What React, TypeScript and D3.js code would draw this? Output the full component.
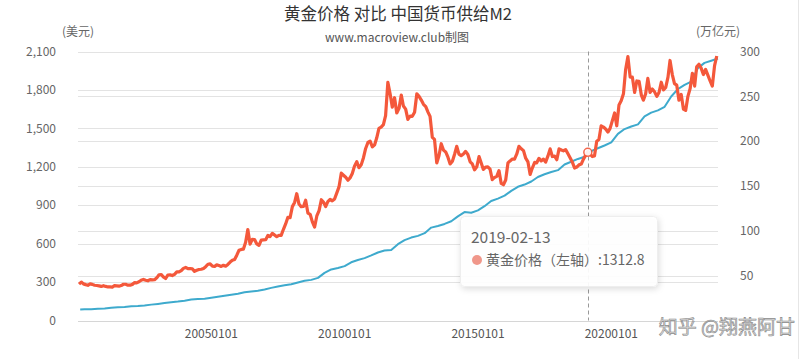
import React from "react";
import * as d3 from "d3";

const years = d3.range(2000, 2024);

// Gold price, USD/oz, one value per month (Jan..Dec) for each year
const gold2000 = [284, 300, 286, 280, 275, 286, 282, 275, 273, 270, 266, 272];
const gold2001 = [266, 262, 263, 261, 272, 270, 268, 273, 283, 283, 276, 276];
const gold2002 = [282, 296, 294, 302, 314, 321, 314, 310, 319, 317, 319, 333];
const gold2003 = [357, 359, 340, 328, 355, 356, 351, 360, 379, 379, 389, 407];
const gold2004 = [414, 405, 406, 403, 384, 392, 398, 400, 406, 420, 439, 442];
const gold2005 = [424, 423, 434, 429, 422, 431, 424, 438, 456, 470, 476, 510];
const gold2006 = [549, 555, 557, 610, 710, 596, 633, 632, 598, 586, 627, 629];
const gold2007 = [631, 665, 655, 680, 668, 655, 665, 665, 712, 754, 806, 803];
const gold2008 = [889, 922, 990, 909, 888, 890, 939, 839, 829, 770, 730, 816];
const gold2009 = [858, 943, 925, 890, 928, 946, 934, 949, 996, 1043, 1150, 1134];
const gold2010 = [1118, 1095, 1113, 1148, 1205, 1240, 1193, 1215, 1271, 1343, 1390, 1400];
const gold2011 = [1356, 1372, 1424, 1500, 1510, 1529, 1600, 1860, 1770, 1665, 1739, 1620];
const gold2012 = [1656, 1760, 1674, 1650, 1570, 1596, 1594, 1626, 1770, 1750, 1721, 1688];
const gold2013 = [1670, 1627, 1593, 1430, 1414, 1230, 1286, 1380, 1330, 1316, 1275, 1222];
const gold2014 = [1244, 1300, 1360, 1299, 1287, 1300, 1320, 1296, 1239, 1222, 1176, 1200];
const gold2015 = [1280, 1227, 1179, 1198, 1199, 1181, 1100, 1117, 1125, 1170, 1070, 1060];
const gold2016 = [1097, 1230, 1246, 1260, 1260, 1300, 1360, 1341, 1326, 1267, 1238, 1140];
const gold2017 = [1192, 1234, 1231, 1266, 1246, 1260, 1236, 1283, 1340, 1280, 1283, 1255];
const gold2018 = [1340, 1331, 1325, 1334, 1303, 1270, 1238, 1190, 1198, 1215, 1221, 1260];
const gold2019 = [1291, 1320, 1300, 1280, 1284, 1400, 1413, 1520, 1510, 1495, 1471, 1500];
const gold2020 = [1560, 1620, 1520, 1683, 1715, 1770, 1960, 2060, 1900, 1900, 1780, 1870];
const gold2021 = [1867, 1760, 1720, 1770, 1890, 1780, 1807, 1785, 1750, 1780, 1860, 1800];
const gold2022 = [1820, 1900, 2030, 1920, 1849, 1837, 1720, 1765, 1650, 1640, 1750, 1810];
const gold2023 = [1930, 1830, 1980, 2000, 1970, 1920, 1960, 1915, 1870, 1830, 1990, 2065];
const goldByYear = [gold2000, gold2001, gold2002, gold2003, gold2004, gold2005, gold2006, gold2007,
  gold2008, gold2009, gold2010, gold2011, gold2012, gold2013, gold2014, gold2015, gold2016, gold2017,
  gold2018, gold2019, gold2020, gold2021, gold2022, gold2023];

// China M2, 万亿元, quarter-end values (Mar, Jun, Sep, Dec)
const m2Start = 12.2;
const m2Quarterly = [
  12.5, 12.6, 13.0, 13.46,
  14.2, 14.7, 15.0, 15.83,
  16.1, 16.8, 17.7, 18.5,
  19.4, 20.4, 21.1, 22.12,
  23.3, 24.0, 24.3, 25.32,
  26.4, 27.6, 28.7, 29.88,
  31.5, 32.3, 33.2, 34.56,
  36.4, 37.8, 39.3, 40.34,
  42.3, 44.3, 45.3, 47.52,
  53.1, 56.9, 58.5, 60.62,
  64.9, 67.4, 69.6, 72.58,
  75.8, 78.1, 78.7, 85.16,
  89.6, 92.5, 94.4, 97.42,
  103.6, 105.4, 107.7, 110.65,
  116.1, 120.9, 120.2, 122.84,
  127.5, 133.3, 135.98, 139.23,
  144.6, 149.1, 151.6, 155.01,
  160.0, 163.1, 165.6, 167.68,
  173.99, 177.02, 180.17, 182.67,
  188.9, 192.1, 195.2, 198.65,
  208.1, 213.5, 216.4, 218.68,
  227.6, 231.8, 234.3, 238.29,
  249.8, 258.1, 262.7, 266.43,
  281.5, 287.3, 289.7, 292.27,
];

const leftTicks = [0, 300, 600, 900, 1200, 1500, 1800, 2100];
const rightTicks = [0, 50, 100, 150, 200, 250, 300];
const xTickYears = [2005, 2010, 2015, 2020];

const tooltipDate = "2019-02-13";
const tooltipValue = 1312.8;

const W = 799;
const H = 359;
const M = { left: 78, right: 718, top: 51.5, bottom: 320.5 };

const GOLD = "#f4583b";
const BLUE = "#3eaacd";
const FONT = "'Noto Sans CJK SC', 'Noto Sans', sans-serif";

export default function App() {
  const x = d3.scaleTime()
    .domain([new Date(2000, 0, 1), new Date(2024, 0, 1)])
    .range([M.left, M.right]);
  const yL = d3.scaleLinear().domain([0, 2100]).range([M.bottom, M.top]);
  const yR = d3.scaleLinear().domain([0, 300]).range([M.bottom, M.top]);

  const goldData: { d: Date; v: number }[] = [];
  goldByYear.forEach((arr, i) => {
    arr.forEach((v, m) => goldData.push({ d: new Date(years[i], m, 15), v }));
  });
  const m2Data: { d: Date; v: number }[] = [{ d: new Date(2000, 0, 31), v: m2Start }];
  m2Quarterly.forEach((v, i) => {
    const yr = 2000 + Math.floor(i / 4);
    const mo = (i % 4) * 3 + 3;
    m2Data.push({ d: new Date(yr, mo, 0), v });
  });

  const goldLine = d3.line<{ d: Date; v: number }>().x(p => x(p.d)).y(p => yL(p.v));
  const m2Line = d3.line<{ d: Date; v: number }>().x(p => x(p.d)).y(p => yR(p.v));

  const tDate = d3.timeParse("%Y-%m-%d")(tooltipDate) as Date;
  const tx = x(tDate);
  const ty = yL(tooltipValue);
  const fmt = d3.format(",");
  const fmtX = d3.timeFormat("%Y%m%d");

  return (
    <div style={{ position: "fixed", left: 0, top: 0 }}>
      <svg width={W} height={H} style={{ display: "block", background: "#fff" }} fontFamily={FONT}>
        {/* grid lines */}
        {leftTicks.map(t => (
          <line key={"gl" + t} x1={M.left} x2={M.right} y1={Math.round(yL(t)) + 0.5} y2={Math.round(yL(t)) + 0.5}
            stroke="#e3e3e3" strokeWidth={1} />
        ))}
        {rightTicks.map(t => (
          <line key={"gr" + t} x1={M.left} x2={M.right} y1={Math.round(yR(t)) + 0.5} y2={Math.round(yR(t)) + 0.5}
            stroke="#e3e3e3" strokeWidth={1} />
        ))}
        {/* x axis line */}
        <line x1={M.left} x2={M.right} y1={Math.round(M.bottom) + 0.5} y2={Math.round(M.bottom) + 0.5} stroke="#d6d6d6" />
        {/* left labels */}
        {leftTicks.map(t => (
          <text key={"ll" + t} x={56} y={yL(t)} dy="0.35em" textAnchor="end" fontSize={12} fill="#666">{fmt(t)}</text>
        ))}
        {rightTicks.filter(t => t > 0).map(t => (
          <text key={"rl" + t} x={740} y={yR(t)} dy="0.35em" textAnchor="start" fontSize={12} fill="#666">{t}</text>
        ))}
        {xTickYears.map(yr => (
          <text key={"x" + yr} x={x(new Date(yr, 0, 1))} y={334} dy="0.35em" textAnchor="middle" fontSize={12} fill="#555">
            {fmtX(new Date(yr, 0, 1))}
          </text>
        ))}
        {/* axis names */}
        <text x={78} y={32} dy="0.35em" textAnchor="middle" fontSize={12} fill="#666">(美元)</text>
        <text x={718} y={32} dy="0.35em" textAnchor="middle" fontSize={12} fill="#666">(万亿元)</text>
        {/* title */}
        <text x={398} y={14} dy="0.35em" textAnchor="middle" fontSize={16.5} fill="#333">黄金价格 对比 中国货币供给M2</text>
        <text x={397} y={37.5} dy="0.35em" textAnchor="middle" fontSize={12} fill="#555">www.macroview.club制图</text>
        {/* series */}
        <path d={m2Line(m2Data) || ""} fill="none" stroke={BLUE} strokeWidth={2} strokeLinejoin="round" />
        <path d={goldLine(goldData) || ""} fill="none" stroke={GOLD} strokeWidth={3.2} strokeLinejoin="round" />
        {/* hover */}
        <line x1={Math.round(tx) + 0.5} x2={Math.round(tx) + 0.5} y1={M.top} y2={M.bottom} stroke="#999" strokeDasharray="4,3" />
        <circle cx={tx} cy={ty} r={4} fill="#fff" stroke={GOLD} strokeWidth={1.5} opacity={0.9} />
        {/* tooltip */}
        <defs>
          <filter id="sh" x="-20%" y="-20%" width="140%" height="140%">
            <feDropShadow dx={1} dy={2} stdDeviation={3} floodColor="#000" floodOpacity={0.15} />
          </filter>
        </defs>
        <rect x={460.5} y={216.5} width={197} height={70} rx={4} fill="rgba(255,255,255,0.92)" stroke="#eee" filter="url(#sh)" />
        <text x={471} y={238} dy="0.35em" fontSize={15.5} fill="#666">{tooltipDate}</text>
        <circle cx={477} cy={260} r={5} fill="#f0978a" />
        <text x={486} y={260} dy="0.35em" fontSize={14} fill="#666">{"黄金价格（左轴）:" + tooltipValue}</text>
        {/* watermark */}
        <text x={795} y={327} dy="0.35em" textAnchor="end" fontSize={19} fill="#d8d8d8" stroke="#8a8a8a" strokeWidth={0.6}>知乎 @翔燕阿甘</text>
        <line x1={798.5} x2={798.5} y1={0} y2={H} stroke="#e6e6e6" />
      </svg>
    </div>
  );
}
